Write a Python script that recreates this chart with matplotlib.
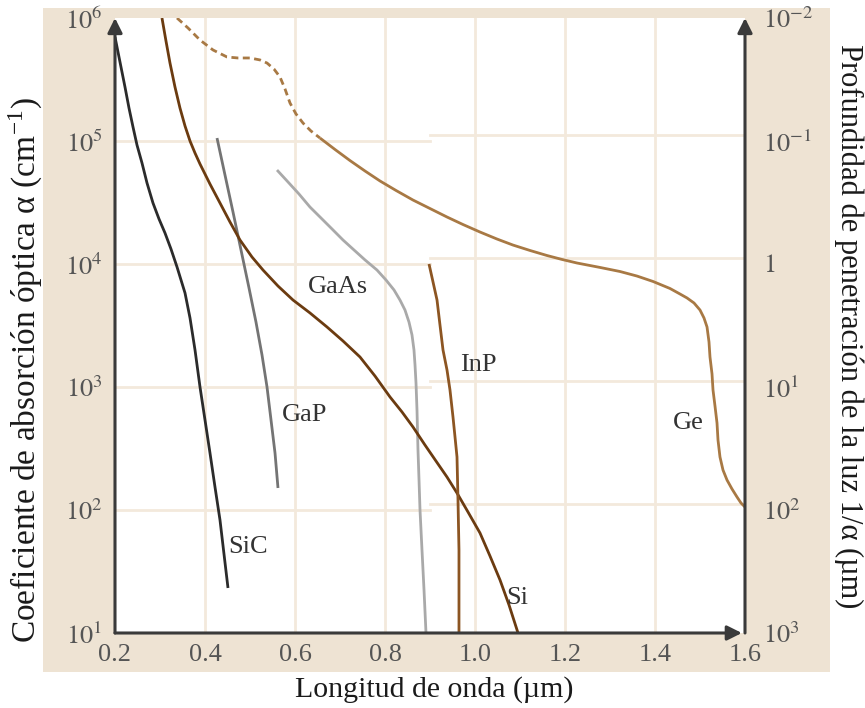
import matplotlib
matplotlib.use("Agg")
import matplotlib.pyplot as plt
from matplotlib.patches import Rectangle
import numpy as np

plt.rcParams['font.family'] = ['Liberation Serif', 'DejaVu Serif']
plt.rcParams['mathtext.fontset'] = 'stix'

# ---------------- data (wavelength in µm, alpha in cm^-1 given as log10) ----------------
sic_x = [0.2000, 0.2111, 0.2222, 0.2311, 0.2400, 0.2489, 0.2600, 0.2711, 0.2844, 0.2978,
         0.3111, 0.3244, 0.3378, 0.3467, 0.3556, 0.3667, 0.3778, 0.3889, 0.4000, 0.4111,
         0.4222, 0.4333, 0.4422, 0.4511]
sic_logy = [5.846, 5.642, 5.439, 5.268, 5.114, 4.967, 4.821, 4.659, 4.496, 4.366,
            4.252, 4.122, 3.976, 3.870, 3.764, 3.561, 3.301, 3.000, 2.732, 2.463,
            2.187, 1.919, 1.642, 1.366]

gap_x = [0.4267, 0.4444, 0.4622, 0.4800, 0.4978, 0.5133, 0.5267, 0.5378, 0.5467, 0.5556, 0.5622]
gap_logy = [5.024, 4.724, 4.423, 4.114, 3.805, 3.528, 3.260, 3.000, 2.732, 2.463, 2.179]

gaas_x = [0.5600, 0.5844, 0.6089, 0.6333, 0.6578, 0.6822, 0.7067, 0.7311, 0.7556, 0.7822,
          0.8022, 0.8200, 0.8333, 0.8444, 0.8533, 0.8600, 0.8644, 0.8667, 0.8689, 0.8711,
          0.8733, 0.8756, 0.8778, 0.8822, 0.8867, 0.8911]
gaas_logy = [4.764, 4.667, 4.569, 4.463, 4.374, 4.285, 4.195, 4.114, 4.033, 3.951,
             3.870, 3.789, 3.707, 3.626, 3.528, 3.423, 3.301, 3.179, 3.033, 2.813,
             2.488, 2.244, 2.000, 1.675, 1.350, 1.000]

si_x = [0.3044, 0.3133, 0.3222, 0.3333, 0.3444, 0.3556, 0.3667, 0.3778, 0.3889, 0.4111,
        0.4333, 0.4556, 0.4778, 0.5044, 0.5289, 0.5622, 0.5956, 0.6333, 0.6711, 0.7067,
        0.7444, 0.7778, 0.8111, 0.8378, 0.8622, 0.8889, 0.9133, 0.9378, 0.9600, 0.9844,
        1.0111, 1.0333, 1.0556, 1.0756, 1.0956]
si_logy = [6.000, 5.813, 5.634, 5.439, 5.268, 5.122, 5.000, 4.902, 4.813, 4.650,
           4.496, 4.341, 4.195, 4.057, 3.951, 3.821, 3.707, 3.602, 3.488, 3.374,
           3.244, 3.089, 2.919, 2.797, 2.675, 2.528, 2.398, 2.268, 2.138, 1.984,
           1.813, 1.626, 1.431, 1.228, 1.000]

inp_x = [0.8978, 0.9067, 0.9156, 0.9222, 0.9289, 0.9378, 0.9444, 0.9511, 0.9556, 0.9600,
         0.9622, 0.9644, 0.9644]
inp_logy = [4.000, 3.854, 3.707, 3.504, 3.301, 3.138, 2.976, 2.756, 2.593, 2.431,
            2.081, 1.675, 1.000]

ge_dash_x = [0.3378, 0.3622, 0.3889, 0.4178, 0.4489, 0.4733, 0.5000, 0.5222, 0.5378,
             0.5533, 0.5667, 0.5778, 0.5889, 0.6022, 0.6178, 0.6356, 0.6556]
ge_dash_logy = [6.000, 5.919, 5.821, 5.740, 5.683, 5.675, 5.675, 5.659, 5.634,
                5.585, 5.520, 5.423, 5.309, 5.220, 5.146, 5.081, 5.024]

ge_x = [0.6556, 0.6889, 0.7222, 0.7556, 0.7889, 0.8244, 0.8622, 0.9000, 0.9378, 0.9733,
        1.0111, 1.0489, 1.0844, 1.1222, 1.1600, 1.1933, 1.2267, 1.2778, 1.3222, 1.3600,
        1.3956, 1.4333, 1.4556, 1.4711, 1.4867, 1.5000, 1.5089, 1.5156, 1.5200, 1.5222,
        1.5267, 1.5289, 1.5333, 1.5378, 1.5400, 1.5444, 1.5511, 1.5600, 1.5711, 1.5822,
        1.5911, 1.6000]
ge_logy = [5.024, 4.931, 4.841, 4.756, 4.675, 4.598, 4.520, 4.451, 4.382, 4.321,
           4.260, 4.203, 4.154, 4.110, 4.069, 4.037, 4.008, 3.972, 3.939, 3.902,
           3.858, 3.801, 3.756, 3.724, 3.683, 3.626, 3.561, 3.488, 3.366, 3.244,
           3.106, 2.976, 2.846, 2.707, 2.569, 2.431, 2.325, 2.244, 2.171, 2.106,
           2.057, 2.024]

labels = ['SiC', 'GaP', 'GaAs', 'InP', 'Si', 'Ge']
label_x = [0.496, 0.622, 0.696, 1.007, 1.093, 1.473]
label_logy = [1.699, 2.772, 3.813, 3.179, 1.285, 2.707]

x_ticks = [0.2, 0.4, 0.6, 0.8, 1.0, 1.2, 1.4, 1.6]
x_ticklabels = ['0.2', '0.4', '0.6', '0.8', '1.0', '1.2', '1.4', '1.6']
y_ticks = [1e1, 1e2, 1e3, 1e4, 1e5, 1e6]
y_ticklabels = ['$10^{1}$', '$10^{2}$', '$10^{3}$', '$10^{4}$', '$10^{5}$', '$10^{6}$']
y2_ticklabels = ['$10^{3}$', '$10^{2}$', '$10^{1}$', '$1$', '$10^{-1}$', '$10^{-2}$']

# ---------------- figure ----------------
W, H = 865, 708
fig = plt.figure(figsize=(W / 100, H / 100), dpi=100, facecolor='white')

beige = '#eee3d3'
fig.add_artist(Rectangle((43 / W, 1 - 672 / H), (830 - 43) / W, (672 - 8) / H,
                         transform=fig.transFigure, facecolor=beige, edgecolor='none', zorder=-5))

ax = fig.add_axes([115 / W, 1 - 633 / H, 630 / W, 615 / H])
ax.set_facecolor('white')
ax.set_yscale('log')
ax.set_xlim(0.2, 1.6)
ax.set_ylim(1e1, 1e6)

gridc = '#f3e9dc'
for xv in x_ticks[1:-1]:
    ax.axvline(xv, color=gridc, lw=2, zorder=0)
for k in range(2, 6):
    ax.plot([0.2, 0.9], [10 ** k, 10 ** k], color=gridc, lw=2, zorder=0)
    ax.plot([0.9, 1.6], [10 ** (k + 0.045), 10 ** (k + 0.045)], color=gridc, lw=2, zorder=0)

lw = 2.0
kw = dict(lw=lw, zorder=3, solid_joinstyle='round', solid_capstyle='butt')

def P(xs, ly):
    return np.array(xs), 10 ** np.array(ly)

ax.plot(*P(sic_x, sic_logy), color='#2b2b2b', **kw)
ax.plot(*P(gap_x, gap_logy), color='#747474', **kw)
ax.plot(*P(gaas_x, gaas_logy), color='#a9a9a9', **kw)
ax.plot(*P(si_x, si_logy), color='#6b3b10', **kw)
ax.plot(*P(inp_x, inp_logy), color='#8c5522', **kw)
ax.plot(*P(ge_dash_x, ge_dash_logy), color='#a87944', lw=lw, ls=(0, (2.5, 1.6)), zorder=3)
ax.plot(*P(ge_x, ge_logy), color='#a87944', **kw)

for t, xv, yv in zip(labels, label_x, label_logy):
    ax.text(xv, 10 ** yv, t, fontsize=19, color='#333333', ha='center', va='center', zorder=4)

for s in ax.spines.values():
    s.set_visible(False)

ax.set_xticks(x_ticks)
ax.set_xticklabels(x_ticklabels)
ax.set_yticks(y_ticks)
ax.set_yticklabels(y_ticklabels)
ax.minorticks_off()
ax.tick_params(axis='both', length=0, labelsize=19, colors='#555555')
ax.tick_params(axis='y', pad=9)
ax.tick_params(axis='x', pad=8)

ax2 = ax.twinx()
ax2.set_yscale('log')
ax2.set_ylim(1e1, 1e6)
ax2.set_yticks(y_ticks)
ax2.set_yticklabels(y2_ticklabels)
ax2.minorticks_off()
ax2.tick_params(axis='y', length=0, labelsize=19, colors='#555555', pad=13)
for s in ax2.spines.values():
    s.set_visible(False)
ax2.patch.set_visible(False)

axc = '#3a3a3a'
arw = dict(arrowstyle='-|>', color=axc, lw=2.2, mutation_scale=22, shrinkA=0, shrinkB=0)
ax.annotate('', xy=(0, 1), xytext=(0, 0), xycoords='axes fraction', textcoords='axes fraction',
            arrowprops=arw, zorder=6)
ax.annotate('', xy=(0.995, 0), xytext=(0, 0), xycoords='axes fraction', textcoords='axes fraction',
            arrowprops=arw, zorder=6)
ax.annotate('', xy=(1, 1), xytext=(1, 0), xycoords='axes fraction', textcoords='axes fraction',
            arrowprops=arw, zorder=6)

fig.text(25 / W, 1 - 370 / H, 'Coeficiente de absorción óptica α (cm$^{\\mathregular{-1}}$)',
         rotation=90, ha='center', va='center', fontsize=24, color='#1a1a1a')
fig.text(849 / W, 1 - 326 / H, 'Profundidad de penetración de la luz 1/α (µm)',
         rotation=270, ha='center', va='center', fontsize=22, color='#1a1a1a')
fig.text(434 / W, 1 - 690 / H, 'Longitud de onda (µm)',
         ha='center', va='center', fontsize=21.5, color='#1a1a1a')

fig.savefig('out.png', dpi=100, facecolor='white')
